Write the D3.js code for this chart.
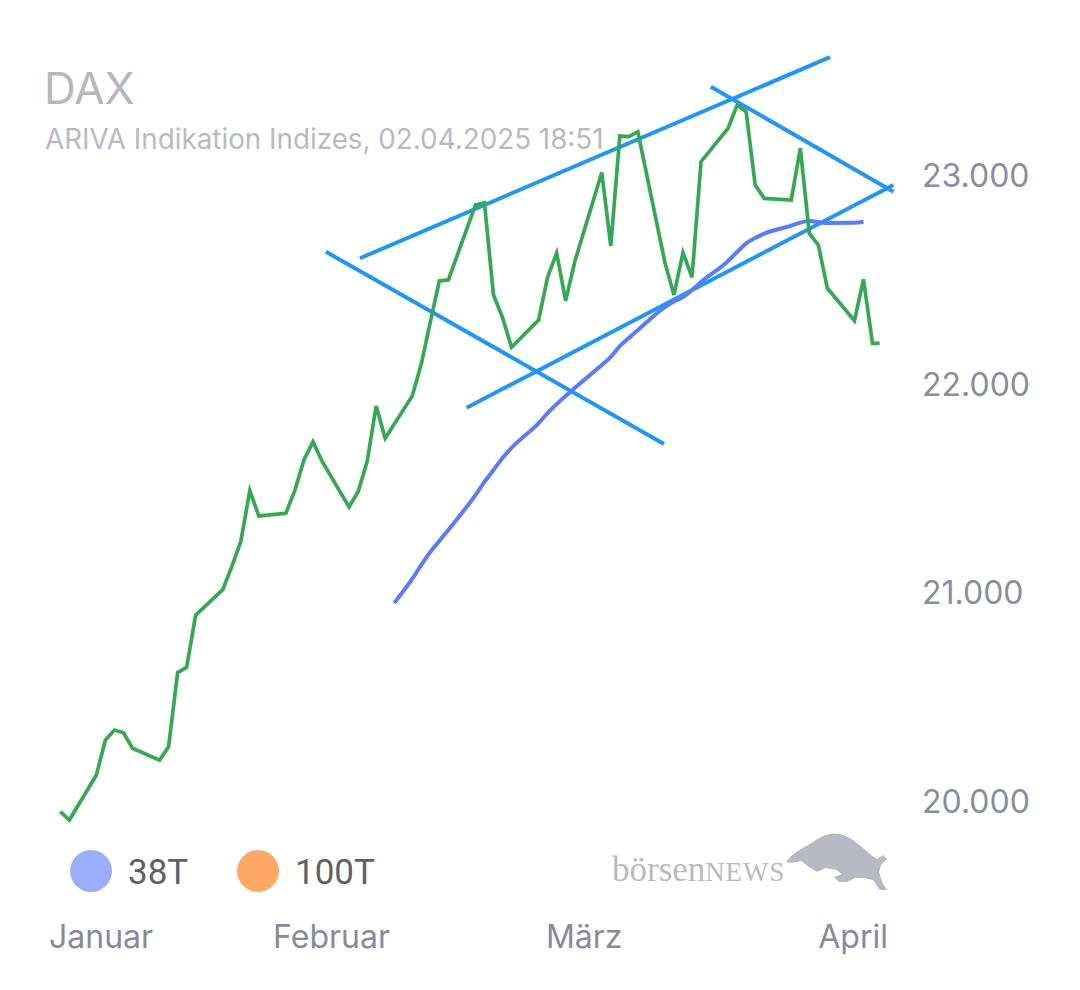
<!DOCTYPE html>
<html>
<head>
<meta charset="utf-8">
<script src="https://cdn.jsdelivr.net/npm/d3@7"></script>
<style>
  html, body { margin: 0; padding: 0; background: #ffffff; }
  svg { display: block; }
</style>
</head>
<body>
<svg id="chart" width="1080" height="990"></svg>
<script>
// DAX daily closes (ARIVA indication), last entry is the intraday quote
const priceDates = [
  "2025-01-02","2025-01-03","2025-01-06","2025-01-07","2025-01-08","2025-01-09","2025-01-10",
  "2025-01-13","2025-01-14","2025-01-15","2025-01-16","2025-01-17",
  "2025-01-20","2025-01-21","2025-01-22","2025-01-23","2025-01-24",
  "2025-01-27","2025-01-28","2025-01-29","2025-01-30","2025-01-31",
  "2025-02-03","2025-02-04","2025-02-05","2025-02-06","2025-02-07",
  "2025-02-10","2025-02-11","2025-02-12","2025-02-13","2025-02-14",
  "2025-02-17","2025-02-18","2025-02-19","2025-02-20","2025-02-21",
  "2025-02-24","2025-02-25","2025-02-26","2025-02-27","2025-02-28",
  "2025-03-03","2025-03-04","2025-03-05","2025-03-06","2025-03-07",
  "2025-03-10","2025-03-11","2025-03-12","2025-03-13","2025-03-14",
  "2025-03-17","2025-03-18","2025-03-19","2025-03-20","2025-03-21",
  "2025-03-24","2025-03-25","2025-03-26","2025-03-27","2025-03-28",
  "2025-03-31","2025-04-01","2025-04-02","2025-04-02T18:51"
];
const priceValues = [
  19949, 19909, 20125, 20292, 20340, 20327, 20253,
  20196, 20260, 20615, 20641, 20891,
  21013, 21123, 21243, 21487, 21366,
  21379, 21490, 21634, 21722, 21629,
  21409, 21482, 21626, 21893, 21738,
  21941, 22094, 22295, 22492, 22497,
  22856, 22867, 22425, 22318, 22174,
  22305, 22511, 22626, 22397, 22583,
  23012, 22660, 23187, 23184, 23207,
  22580, 22425, 22628, 22510, 23064,
  23224, 23335, 23303, 22952, 22888,
  22880, 23128, 22720, 22664, 22457,
  22302, 22500, 22193, 22193
];

// 38-day moving average
const maDates = [
  "2025-02-08",
  "2025-02-10","2025-02-11","2025-02-12","2025-02-13","2025-02-14",
  "2025-02-17","2025-02-18","2025-02-19","2025-02-20","2025-02-21",
  "2025-02-24","2025-02-25","2025-02-26","2025-02-27","2025-02-28",
  "2025-03-03","2025-03-04","2025-03-05","2025-03-06","2025-03-07",
  "2025-03-10","2025-03-11","2025-03-12","2025-03-13","2025-03-14",
  "2025-03-17","2025-03-18","2025-03-19","2025-03-20","2025-03-21",
  "2025-03-24","2025-03-25","2025-03-26","2025-03-27","2025-03-28",
  "2025-03-31","2025-04-01"
];
const ma38Values = [
  20949,
  21064, 21131, 21193, 21246, 21299,
  21466, 21529, 21586, 21644, 21692,
  21811, 21859, 21902, 21941, 21979,
  22089, 22128, 22180, 22219, 22257,
  22367, 22394, 22415, 22449, 22487,
  22588, 22631, 22672, 22698, 22719,
  22757, 22772, 22779, 22775, 22770,
  22771, 22776
];

// Hand-drawn trend lines: channel top, channel bottom, two falling lines
const trendStartDates  = ["2025-02-04T05:00", "2025-02-16T01:00", "2025-01-31T10:30", "2025-03-15T02:00"];
const trendStartValues = [22601, 21885, 22632, 23423];
const trendEndDates    = ["2025-03-28T07:00", "2025-04-04T07:30", "2025-03-09T21:30", "2025-04-04T07:30"];
const trendEndValues   = [23565, 22952, 21711, 22920];

// Axis labels
const yTicks = [20000, 21000, 22000, 23000];
const monthStarts = ["2025-01-01", "2025-02-01", "2025-03-01", "2025-04-01"];
const monthNames = ["Januar", "Februar", "März", "April"];

// Legend
const legendLabels = ["38T", "100T"];
const legendColors = ["#9aaefc", "#ffa866"];

const titleText = "DAX";
const subtitleText = "ARIVA Indikation Indizes, 02.04.2025 18:51";

// ---------------------------------------------------------------------------
const parseDay = d3.utcParse("%Y-%m-%d");
const parseDayTime = d3.utcParse("%Y-%m-%dT%H:%M");
const parse = s => (s.length > 10 ? parseDayTime(s) : parseDay(s));

const svg = d3.select("#chart");
svg.append("rect").attr("width", 1080).attr("height", 990).attr("fill", "#ffffff");

const x = d3.scaleUtc()
  .domain([parse("2025-01-02"), parse("2025-04-02")])
  .range([60.3, 872.5]);
const y = d3.scaleLinear()
  .domain([20000, 23000])
  .range([801, 175]);

const deFormat = d3.formatLocale({ decimal: ",", thousands: ".", grouping: [3], currency: ["", " €"] }).format(",");

// Title block
svg.append("text")
  .attr("x", 44).attr("y", 104)
  .attr("font-family", "Inter, 'Noto Sans', sans-serif")
  .attr("font-size", 44)
  .attr("fill", "#b6b6c2")
  .text(titleText);
svg.append("text")
  .attr("x", 45).attr("y", 149)
  .attr("font-family", "Inter, 'Noto Sans', sans-serif")
  .attr("font-size", 27.8)
  .attr("fill", "#b9b9c5")
  .text(subtitleText);

// Y axis on the right
const yAxis = svg.append("g")
  .attr("transform", "translate(922,0)")
  .call(d3.axisRight(y).tickValues(yTicks).tickSize(0).tickPadding(0).tickFormat(deFormat));
yAxis.select(".domain").remove();
yAxis.selectAll("text")
  .attr("font-family", "Inter, 'Noto Sans', sans-serif")
  .attr("font-size", 32)
  .attr("fill", "#8a8ca0")
  .attr("dy", "0.36em")
  .attr("text-anchor", "start");

// X axis month labels, kept inside the plot edges
const xAxis = svg.append("g")
  .attr("transform", "translate(0,915)")
  .call(d3.axisBottom(x).tickValues(monthStarts.map(parse)).tickSize(0).tickPadding(0)
    .tickFormat((d, i) => monthNames[i]));
xAxis.select(".domain").remove();
xAxis.selectAll("text")
  .attr("font-family", "Inter, 'Noto Sans', sans-serif")
  .attr("font-size", 32)
  .attr("fill", "#878a9f")
  .attr("dy", "1.04em")
  .each(function () {
    const t = d3.select(this);
    const tx = +d3.select(this.parentNode).attr("transform").match(/translate\(([-\d.]+)/)[1];
    const w = this.getComputedTextLength();
    if (tx - w / 2 < 49) t.attr("x", 49 - tx + w / 2);
    if (tx + w / 2 > 888) t.attr("x", 888 - tx - w / 2);
  });

// Trend lines
const plot = svg.append("g");
plot.selectAll("line.trend")
  .data(trendStartDates.map((d, i) => ({
    x1: parse(d), y1: trendStartValues[i],
    x2: parse(trendEndDates[i]), y2: trendEndValues[i]
  })))
  .join("line")
  .attr("class", "trend")
  .attr("x1", d => x(d.x1)).attr("y1", d => y(d.y1))
  .attr("x2", d => x(d.x2)).attr("y2", d => y(d.y2))
  .attr("stroke", "#2196f3")
  .attr("stroke-width", 4);

// Moving average line
const maLine = d3.line()
  .x((d, i) => x(parse(maDates[i])))
  .y(d => y(d))
  .curve(d3.curveMonotoneX);
plot.append("path")
  .datum(ma38Values)
  .attr("d", maLine)
  .attr("fill", "none")
  .attr("stroke", "#5b7cf9")
  .attr("stroke-width", 4);

// Price line
const priceLine = d3.line()
  .x((d, i) => x(parse(priceDates[i])))
  .y(d => y(d));
plot.append("path")
  .datum(priceValues)
  .attr("d", priceLine)
  .attr("fill", "none")
  .attr("stroke", "#34a853")
  .attr("stroke-width", 3.7)
  .attr("stroke-linejoin", "miter");

// Legend
const legendX = [91, 258];
const lg = svg.append("g");
legendLabels.forEach((label, i) => {
  lg.append("circle")
    .attr("cx", legendX[i]).attr("cy", 871).attr("r", 21)
    .attr("fill", legendColors[i]);
  lg.append("text")
    .attr("x", legendX[i] + 37).attr("y", 884)
    .attr("font-family", "Roboto, 'Noto Sans', sans-serif")
    .attr("font-size", 35)
    .attr("fill", "#616161")
    .text(label);
});

// Publisher logo
const logo = svg.append("g").attr("fill", "#b9b9c6");
const logoText = logo.append("text")
  .attr("x", 612).attr("y", 881)
  .attr("font-family", "'Liberation Serif', 'DejaVu Serif', serif");
logoText.append("tspan").attr("font-size", 35).text("börsen");
logoText.append("tspan").attr("font-size", 27).attr("letter-spacing", 0.8).text("NEWS");
logo.append("path")
  .attr("d", "M786,862 L791,856 C797,851 806,846 813,842 C821,836 829,832 840,834 C852,837 862,847 871,855 L877,859 L883,855 L887,859 L881,865 L879,872 L883,884 L887,890 L880,890 L873,880 L864,878 L855,878 L847,882 L839,882 L834,877 L842,874 L836,870 L826,868 L817,872 L809,867 L801,861 L792,863 Z");
</script>
</body>
</html>
